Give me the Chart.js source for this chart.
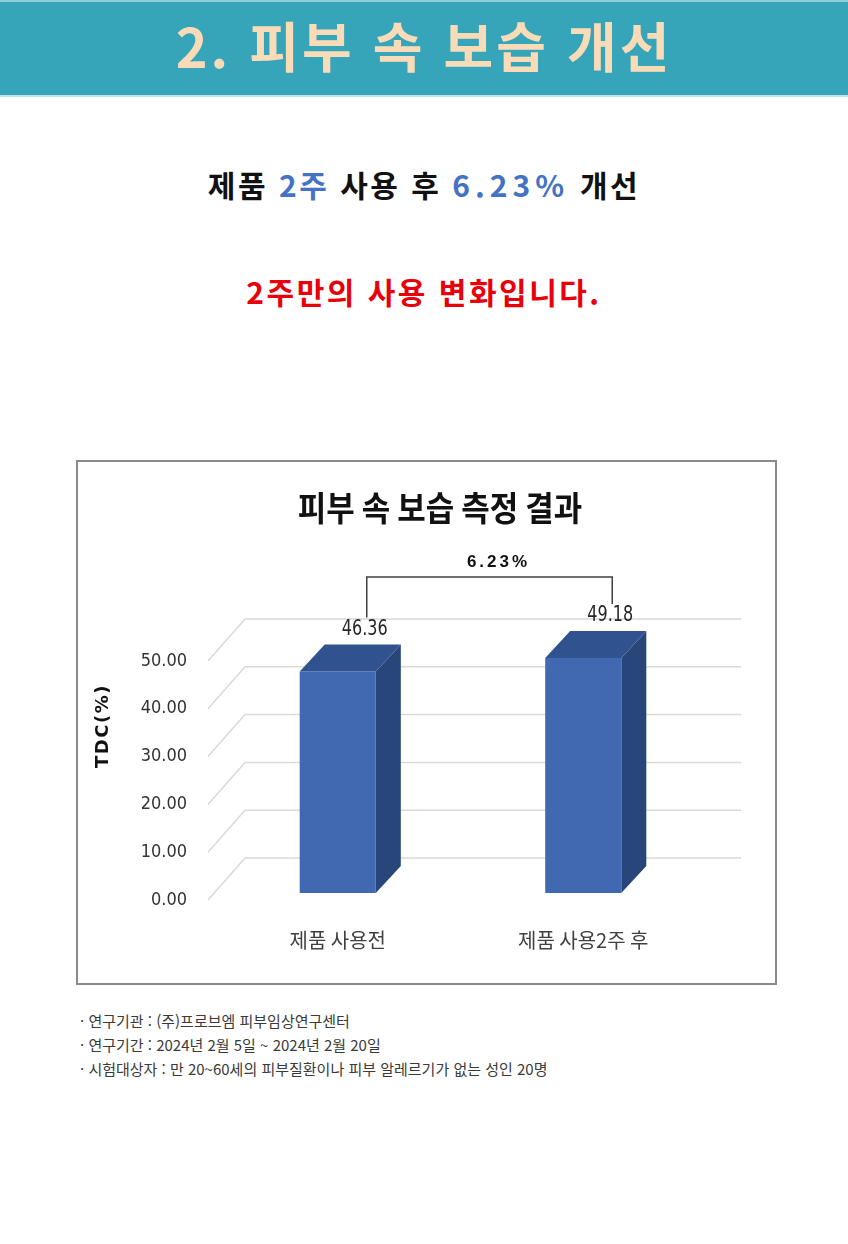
<!DOCTYPE html>
<html lang="ko">
<head>
<meta charset="utf-8">
<title>피부 속 보습 개선</title>
<script src="https://cdn.jsdelivr.net/npm/chart.js@4.4.1/dist/chart.umd.min.js"></script>
<style>
  html, body { margin: 0; padding: 0; background: #fff; }
  body { width: 848px; height: 1244px; position: relative; overflow: hidden;
         font-family: "Noto Sans CJK KR", "Noto Sans", sans-serif; }
  .banner { position: absolute; left: 0; top: 0; width: 848px; height: 97px; box-sizing: border-box;
            background: #36a5b9; border-top: 2px solid #8fcdd9; border-bottom: 2px solid #c3e3ea; }
  .banner h1 { margin: 0; text-align: center; line-height: 86px; font-size: 54px; font-weight: 700;
               color: #f9dbb8; letter-spacing: 3px; }
  .headline { position: absolute; left: 0; width: 848px; text-align: center; line-height: 40px;
              font-size: 30px; font-weight: 700; }
  .h1line { top: 164px; color: #111; letter-spacing: 2.5px; }
  .h1line .blue { color: #4472c4; }
  .h1line .pct { letter-spacing: 5px; }
  .h2line { top: 271px; color: #e8000b; letter-spacing: 2.5px; }
  .chart-box { position: absolute; left: 76px; top: 460px; width: 701px; height: 525px;
               box-sizing: border-box; border: 2px solid #8a8a8a; background: #fff; }
  .chart-box canvas { position: absolute; left: 0; top: 0; }
  .notes { position: absolute; left: 80px; top: 1009px; font-size: 15px; line-height: 24px; color: #3a3a3a; }
</style>
</head>
<body>
  <div class="banner"><h1>2. 피부 속 보습 개선</h1></div>
  <div class="headline h1line">제품 <span class="blue">2주</span> 사용 후 <span class="blue pct">6.23%</span> 개선</div>
  <div class="headline h2line">2주만의 사용 변화입니다.</div>

  <div class="chart-box"><canvas id="tdcChart" width="697" height="521"></canvas></div>

  <div class="notes">
    <div>· 연구기관 : (주)프로브엠 피부임상연구센터</div>
    <div>· 연구기간 : 2024년 2월 5일 ~ 2024년 2월 20일</div>
    <div>· 시험대상자 : 만 20~60세의 피부질환이나 피부 알레르기가 없는 성인 20명</div>
  </div>

<script>
// 데이터
const chartTitle = '피부 속 보습 측정 결과';
const categories = ['제품 사용전', '제품 사용2주 후'];
const tdcValues = [46.36, 49.18];
const valueLabels = ['46.36', '49.18'];
const yTicks = [0, 10, 20, 30, 40, 50];
const improvementLabel = '6.23%';

const NARROW = '"Liberation Sans Narrow", "DejaVu Sans Condensed", sans-serif';
const KR = '"Noto Sans CJK KR", "Noto Sans", sans-serif';

// 3D 효과 (Excel 스타일)
const DX = 25, DY = -27, LIFT = 7;
const FRONT = '#4169b1', TOP = '#30538f', SIDE = '#28467a';

function poly(ctx, pts, color) {
  ctx.beginPath();
  ctx.moveTo(pts[0][0], pts[0][1]);
  pts.slice(1).forEach(p => ctx.lineTo(p[0], p[1]));
  ctx.closePath();
  ctx.fillStyle = color;
  ctx.fill();
}

const grid3d = {
  id: 'grid3d',
  beforeDatasetsDraw(chart) {
    const { ctx, chartArea, scales: { y } } = chart;
    ctx.save();
    ctx.strokeStyle = '#d9d9d9';
    ctx.lineWidth = 1.5;
    y.ticks.forEach(t => {
      const py = y.getPixelForValue(t.value);
      ctx.beginPath();
      ctx.moveTo(chartArea.left - 7, py);
      ctx.lineTo(chartArea.left + 30, py - 42);
      ctx.lineTo(chartArea.right + 35, py - 42);
      ctx.stroke();
    });
    // 세로축 제목
    ctx.translate(25, 264);
    ctx.rotate(-Math.PI / 2);
    ctx.fillStyle = '#111';
    ctx.font = 'bold 18px "DejaVu Sans", sans-serif';
    ctx.letterSpacing = '1.5px';
    ctx.textAlign = 'center';
    ctx.textBaseline = 'middle';
    ctx.fillText('TDC(%)', 0, 0);
    ctx.restore();

    // 차트 제목 (좁은 글꼴 느낌)
    ctx.save();
    ctx.translate(362, 46);
    ctx.scale(0.91, 1);
    ctx.fillStyle = '#111';
    ctx.font = 'bold 34px ' + KR;
    ctx.textAlign = 'center';
    ctx.textBaseline = 'middle';
    ctx.fillText(chartTitle, 0, 0);
    ctx.restore();
  }
};

const bars3d = {
  id: 'bars3d',
  afterDatasetsDraw(chart) {
    const { ctx } = chart;
    const meta = chart.getDatasetMeta(0);
    const tips = [];
    ctx.save();
    meta.data.forEach((bar, i) => {
      const { x, y, base, width } = bar.getProps(['x', 'y', 'base', 'width'], true);
      const l = x - width / 2, r = x + width / 2, t = y - LIFT, b = base - LIFT;
      poly(ctx, [[r, t], [r + DX, t + DY], [r + DX, b + DY], [r, b]], SIDE);
      poly(ctx, [[l, t], [l + DX, t + DY], [r + DX, t + DY], [r, t]], TOP);
      ctx.fillStyle = FRONT;
      ctx.fillRect(l, t, width, b - t);

      const lx = x + DX + 2, ly = t + DY - 15;
      ctx.save();
      ctx.translate(lx, ly);
      ctx.scale(0.85, 1);
      ctx.fillStyle = '#262626';
      ctx.font = '21px ' + NARROW;
      ctx.textAlign = 'center';
      ctx.textBaseline = 'middle';
      ctx.fillText(valueLabels[i], 0, 0);
      ctx.restore();
      tips.push({ x: x + DX + 4, y: ly });
    });

    // 증가율 괄호
    const topY = Math.min(...tips.map(p => p.y)) - 39;
    ctx.strokeStyle = '#404040';
    ctx.lineWidth = 1.5;
    ctx.beginPath();
    ctx.moveTo(tips[0].x, tips[0].y - 12);
    ctx.lineTo(tips[0].x, topY);
    ctx.lineTo(tips[1].x, topY);
    ctx.lineTo(tips[1].x, tips[1].y - 12);
    ctx.stroke();

    ctx.fillStyle = '#111';
    ctx.font = 'bold 17px "Liberation Sans", Arial, sans-serif';
    ctx.letterSpacing = '3px';
    ctx.textAlign = 'center';
    ctx.textBaseline = 'middle';
    ctx.fillText(improvementLabel, (tips[0].x + tips[1].x) / 2 + 9, topY - 15);
    ctx.restore();
  }
};

Chart.defaults.font.family = KR;

new Chart(document.getElementById('tdcChart'), {
  type: 'bar',
  data: {
    labels: categories,
    datasets: [{
      label: 'TDC(%)',
      data: tdcValues,
      backgroundColor: 'rgba(0,0,0,0)',
      barPercentage: 0.31,
      categoryPercentage: 1
    }]
  },
  options: {
    responsive: false,
    animation: false,
    layout: { padding: { left: 0, right: 69, top: 199, bottom: 0 } },
    plugins: {
      legend: { display: false },
      tooltip: { enabled: false },
      title: { display: false }
    },
    scales: {
      x: {
        grid: { display: false, drawTicks: false },
        border: { display: false },
        ticks: { color: '#404040', font: { family: KR, size: 20 }, padding: 28 },
        afterFit: s => { s.height = 83; }
      },
      y: {
        min: 0, max: 50,
        afterBuildTicks: s => { s.ticks = yTicks.map(v => ({ value: v })); },
        grid: { display: false, drawTicks: false },
        border: { display: false },
        ticks: { color: '#333', font: { family: NARROW, size: 18 }, padding: 28,
                 callback: v => Number(v).toFixed(2) },
        afterFit: s => { s.width = 137; }
      }
    }
  },
  plugins: [grid3d, bars3d]
});
</script>
</body>
</html>
